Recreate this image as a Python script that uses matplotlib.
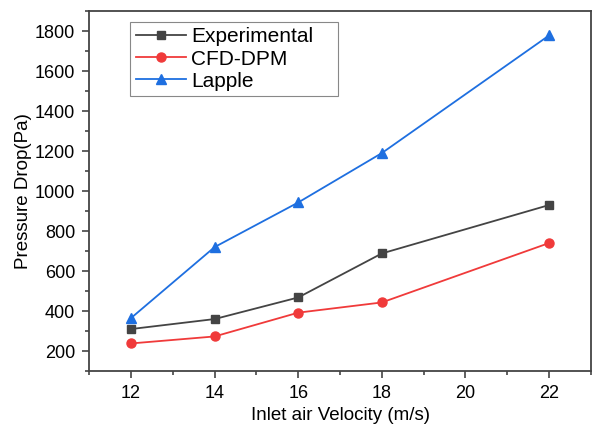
import matplotlib.pyplot as plt
from matplotlib.ticker import MultipleLocator

plt.rcParams['font.family'] = ['Liberation Sans', 'DejaVu Sans']

velocity = [12, 14, 16, 18, 22]
experimental = [310, 360, 468, 688, 930]
cfd_dpm = [238, 273, 392, 443, 740]
lapple = [365, 720, 943, 1190, 1778]

fig = plt.figure(figsize=(5.95, 4.26), dpi=100)
ax = fig.add_axes([0.150, 0.129, 0.843, 0.845])

ax.plot(velocity, experimental, color='#444444', marker='s', ms=6, lw=1.3, label='Experimental')
ax.plot(velocity, cfd_dpm, color='#f03a3a', marker='o', ms=6.5, lw=1.3, label='CFD-DPM')
ax.plot(velocity, lapple, color='#1e6fe0', marker='^', ms=7, lw=1.3, label='Lapple')

ax.set_xlim(11, 23)
ax.set_ylim(100, 1900)
ax.xaxis.set_major_locator(MultipleLocator(2))
ax.xaxis.set_minor_locator(MultipleLocator(1))
ax.yaxis.set_major_locator(MultipleLocator(200))
ax.yaxis.set_minor_locator(MultipleLocator(100))

for s in ax.spines.values():
    s.set_color('#444444')
    s.set_linewidth(1.3)
ax.tick_params(which='both', direction='out', top=False, right=False, color='#444444', width=1.2)
ax.tick_params(which='major', length=5, labelsize=13, pad=5)
ax.tick_params(which='minor', length=3)

ax.set_xlabel('Inlet air Velocity (m/s)', fontsize=13.5, labelpad=4)
ax.set_ylabel('Pressure Drop(Pa)', fontsize=13.5, labelpad=2)

leg = ax.legend(loc='upper left', bbox_to_anchor=(0.082, 0.969, 0.414, 0), mode='expand',
                borderaxespad=0, fontsize=15, fancybox=False, edgecolor='#888888',
                framealpha=1, handlelength=2.4, handletextpad=0.25, borderpad=0.25,
                labelspacing=0.15)
leg.get_frame().set_linewidth(0.8)

fig.savefig('out.png', dpi=100)
